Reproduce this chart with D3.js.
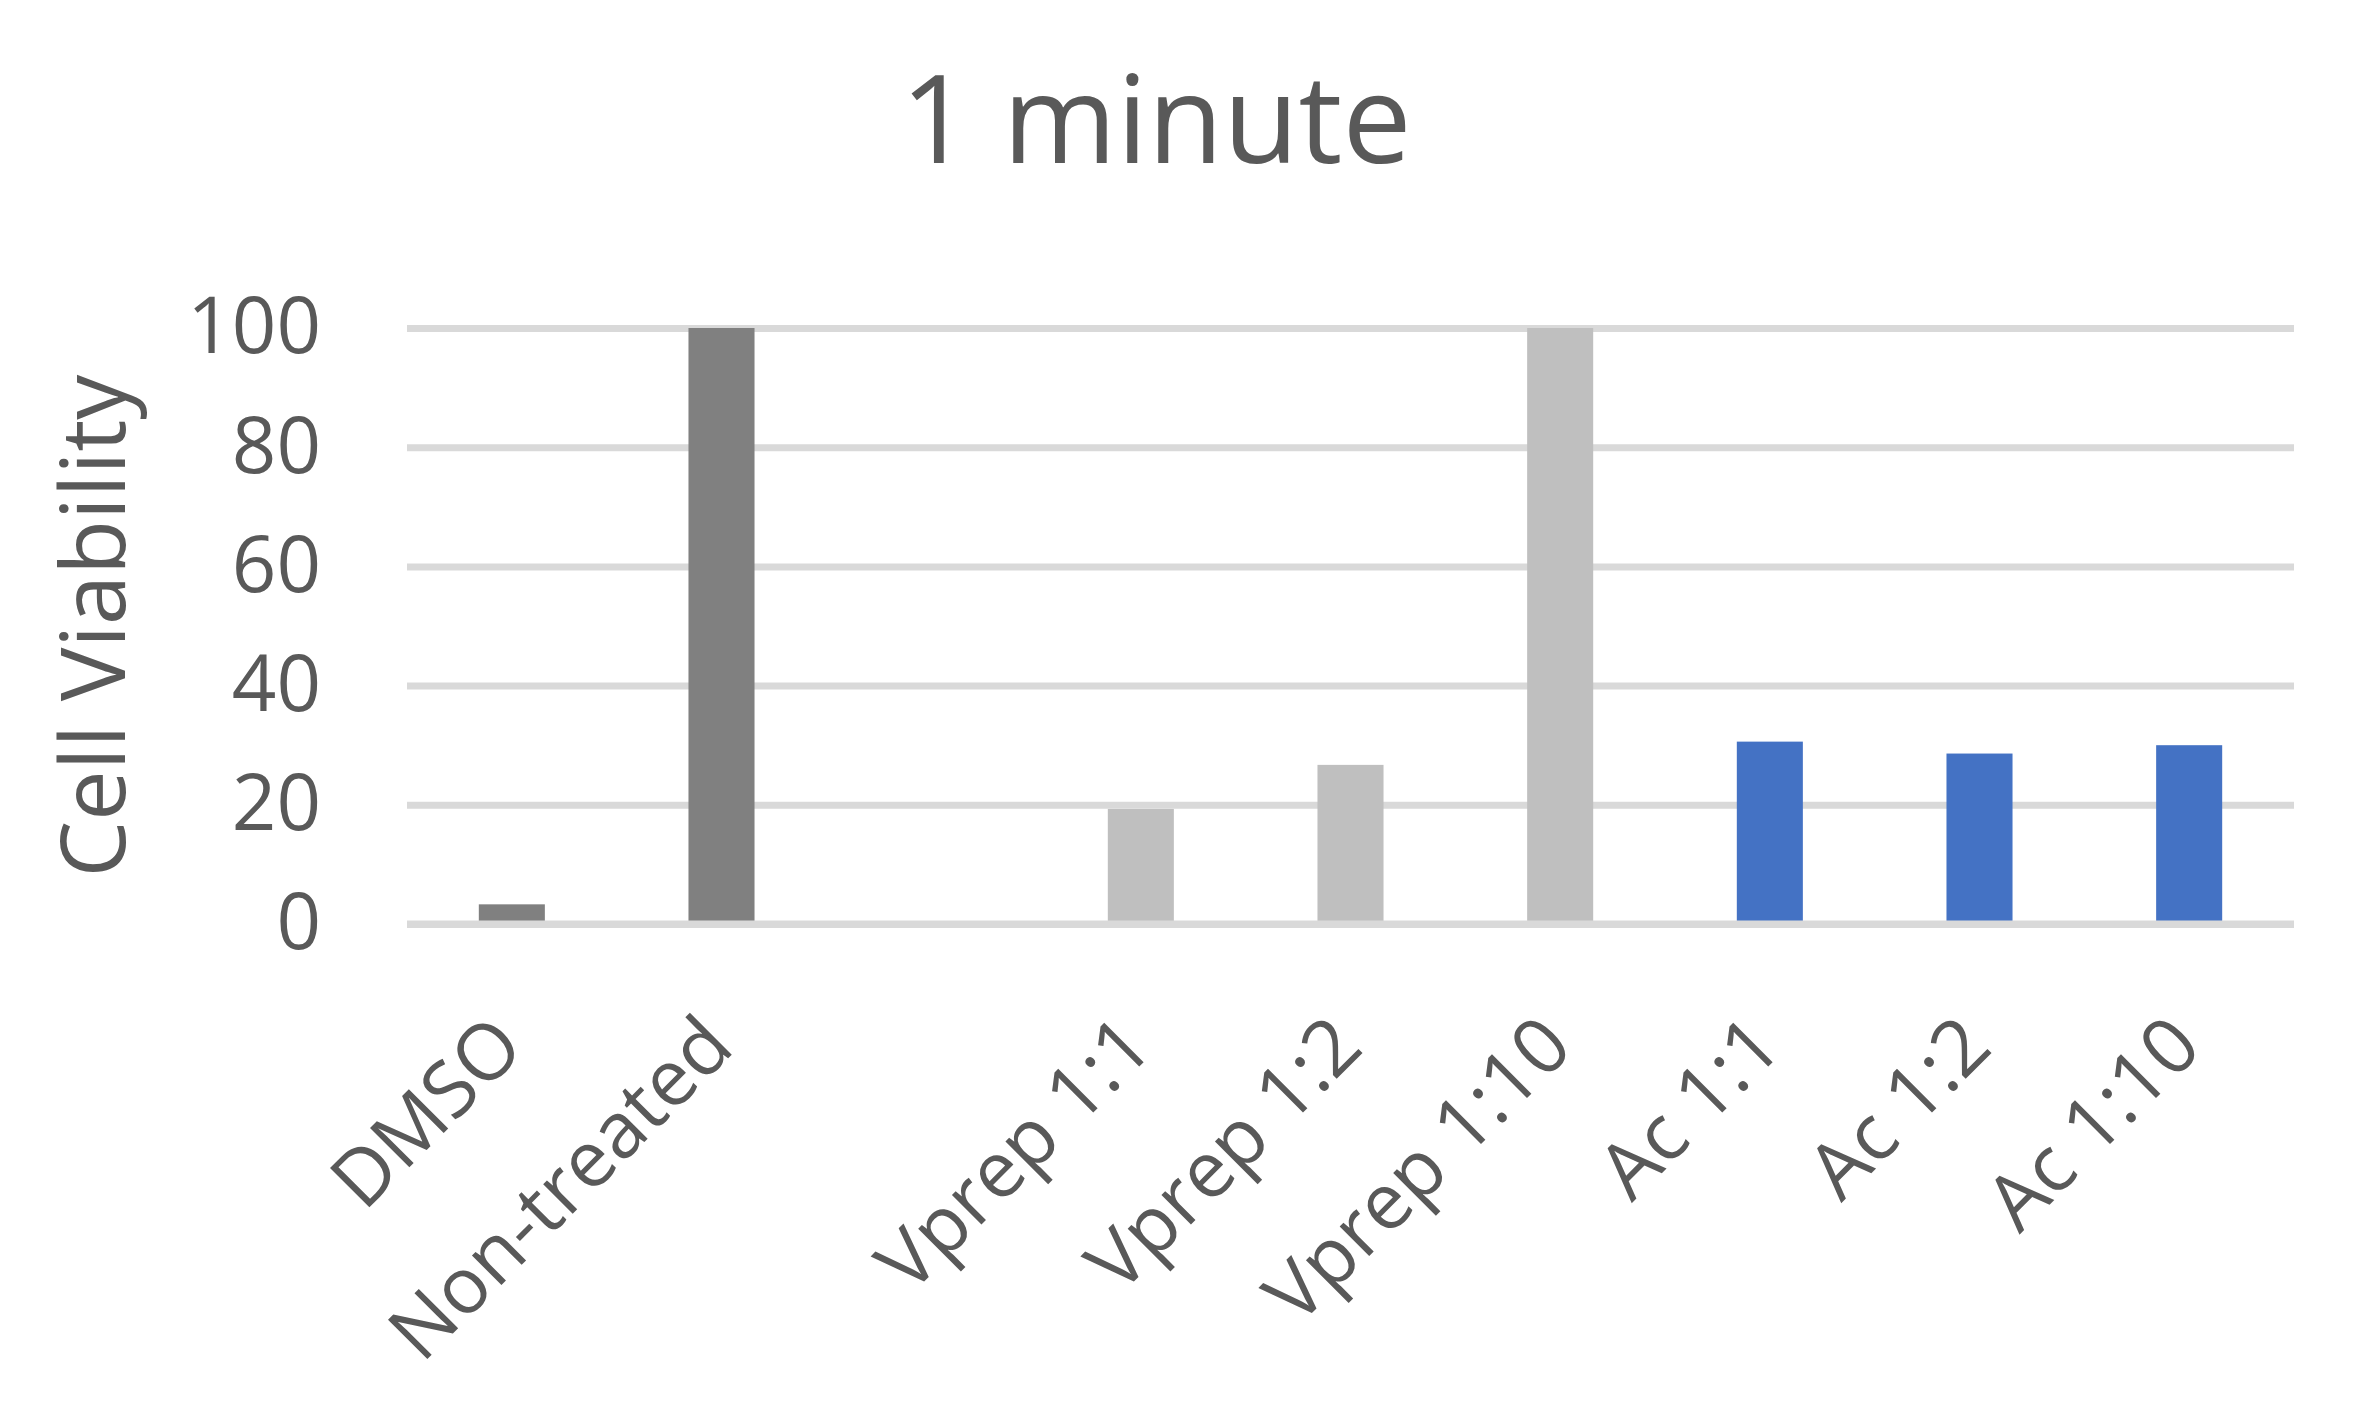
<!DOCTYPE html>
<html>
<head>
<meta charset="utf-8">
<script src="https://cdn.jsdelivr.net/npm/d3@7"></script>
<style>
  body { margin: 0; background: #fff; }
  text { font-family: "Open Sans", "Noto Sans", sans-serif; fill: #595959; }
</style>
</head>
<body>
<div id="chart"></div>
<script>
// chart values
const categories = ['DMSO', 'Non-treated', '', 'Vprep 1:1', 'Vprep 1:2', 'Vprep 1:10', 'Ac 1:1', 'Ac 1:2', 'Ac 1:10'];
const viability = [3.3, 100, null, 19.3, 26.7, 100, 30.6, 28.6, 30.0];
const groups = ['control', 'control', null, 'vprep', 'vprep', 'vprep', 'ac', 'ac', 'ac'];
const yTicks = [0, 20, 40, 60, 80, 100];
const title = '1 minute';
const yTitle = 'Cell Viability';

const width = 2366, height = 1401;
const margin = {top: 328, right: 72, bottom: 477, left: 407};

const svg = d3.select('#chart')
  .append('svg')
  .attr('width', width)
  .attr('height', height);

svg.append('rect').attr('width', width).attr('height', height).attr('fill', '#fff');

const x = d3.scaleBand()
  .domain(categories)
  .range([margin.left, width - margin.right])
  .paddingInner(0.685)
  .paddingOuter(0.3425);

const y = d3.scaleLinear()
  .domain([0, 100])
  .range([height - margin.bottom, margin.top]);

const color = d3.scaleOrdinal()
  .domain(['control', 'vprep', 'ac'])
  .range(['#808080', '#BFBFBF', '#4472C4']);

// gridlines
const grid = svg.append('g')
  .attr('transform', `translate(${margin.left},0)`)
  .call(d3.axisLeft(y).tickValues(yTicks).tickSize(-(width - margin.right - margin.left)).tickFormat(''));
grid.select('.domain').remove();
grid.selectAll('line').attr('stroke', '#D9D9D9').attr('stroke-width', 7);

// tick labels
const yAxis = svg.append('g')
  .attr('transform', `translate(${margin.left},0)`)
  .call(d3.axisLeft(y).tickValues(yTicks).tickSize(0).tickPadding(86));
yAxis.select('.domain').remove();
yAxis.selectAll('text')
  .attr('font-size', 78)
  .attr('font-family', '"Open Sans", "Noto Sans", sans-serif')
  .attr('fill', '#595959');

// bars
const rows = categories.map((c, i) => ({cat: c, v: viability[i], g: groups[i]}))
  .filter(d => d.v != null);

svg.append('g')
  .selectAll('rect')
  .data(rows)
  .enter()
    .append('rect')
    .attr('x', d => x(d.cat))
    .attr('width', x.bandwidth())
    .attr('y', d => y(d.v))
    .attr('height', d => y(0) - y(d.v))
    .attr('fill', d => color(d.g));

// horizontal axis line over the bars
svg.append('line')
  .attr('x1', margin.left)
  .attr('x2', width - margin.right)
  .attr('y1', y(0))
  .attr('y2', y(0))
  .attr('stroke', '#D9D9D9')
  .attr('stroke-width', 7);

// category labels
svg.append('g')
  .selectAll('text')
  .data(categories)
  .enter()
    .append('text')
    .attr('transform', d => `translate(${x(d) + x.bandwidth() / 2 + 15},${y(0) + 126}) rotate(-45)`)
    .attr('text-anchor', 'end')
    .attr('font-size', 78)
    .text(d => d);

svg.append('text')
  .attr('x', 1156)
  .attr('y', 163)
  .attr('text-anchor', 'middle')
  .attr('font-size', 123)
  .text(title);

svg.append('text')
  .attr('transform', 'translate(125,626) rotate(-90)')
  .attr('text-anchor', 'middle')
  .attr('font-size', 90)
  .text(yTitle);
</script>
</body>
</html>
